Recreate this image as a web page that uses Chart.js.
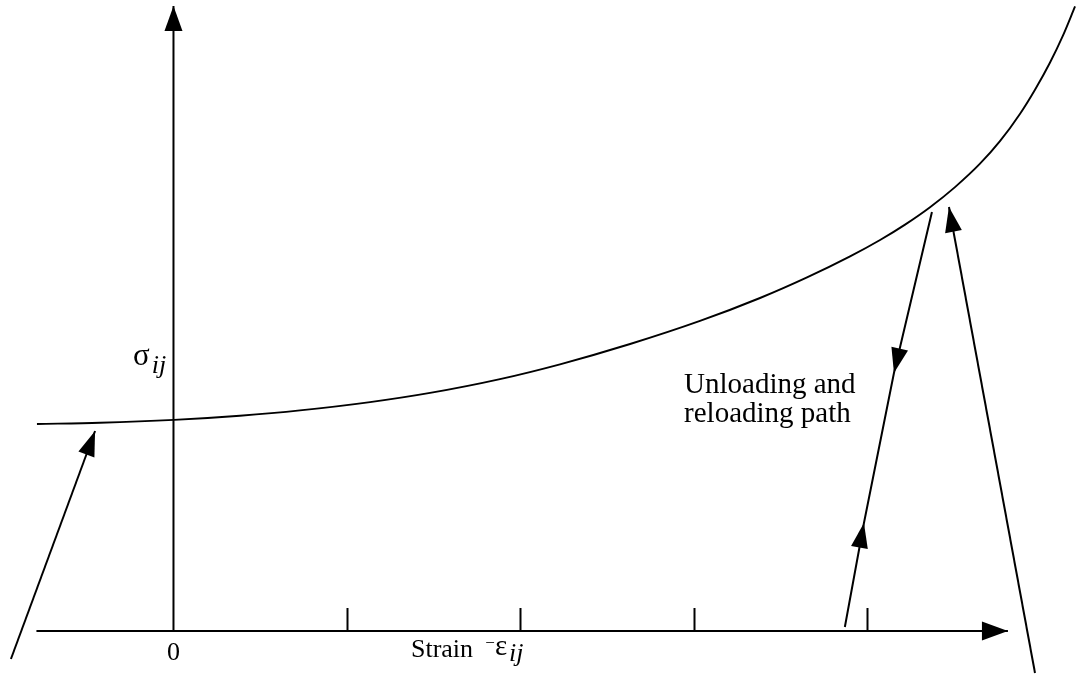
<!DOCTYPE html>
<html>
<head>
<meta charset="utf-8">
<script src="https://cdn.jsdelivr.net/npm/chart.js@4/dist/chart.umd.min.js"></script>
<style>
  html, body { margin: 0; padding: 0; background: #fff; overflow: hidden; }
  #wrap { width: 1086px; height: 676px; }
</style>
</head>
<body>
<div id="wrap"><canvas id="c" width="1086" height="676"></canvas></div>
<script>
// Stress–strain curve: strain in tick units, stress in arbitrary units
const curveStrain = [-0.787, -0.424, 0.003, 0.383, 0.729, 1.133, 1.479, 1.882, 2.228, 2.632, 3.035,
                     3.381, 3.652, 3.900, 4.073, 4.217, 4.361, 4.505, 4.649, 4.764, 4.880, 4.966,
                     5.052, 5.127, 5.197];
const curveStress = [2.070, 2.082, 2.111, 2.153, 2.206, 2.289, 2.381, 2.519, 2.667, 2.870, 3.101,
                     3.330, 3.536, 3.746, 3.910, 4.064, 4.238, 4.439, 4.673, 4.898, 5.173, 5.413,
                     5.683, 5.954, 6.246];

// Loading path coming up to the curve from the left
const approachStrain = [-0.937, -0.452];
const approachStress = [-0.28, 2.00];

// Unloading and reloading path (down from the curve, then back up)
const unloadStrain = [4.372, 4.153, 3.980, 3.870];
const unloadStress = [4.19, 2.58, 1.08, 0.04];

// Reloading path back to the curve
const reloadStrain = [4.966, 4.470];
const reloadStress = [-0.42, 4.24];

// Coordinate axes
const xAxisStrain = [-0.79, 4.81];
const yAxisStress = [0, 6.25];

// Tick marks on the strain axis and the one labelled tick
const tickStrain = [1, 2, 3, 4];
const tickLabelValues = [0];
const tickLabels = ['0'];

const pts = (xs, ys) => xs.map((x, i) => ({ x, y: ys[i] }));

const INK = '#000';
const SERIF = '"Liberation Serif", "DejaVu Serif", serif';

function line(data, extra) {
  return Object.assign({
    data, showLine: true, pointRadius: 0, borderColor: INK,
    borderWidth: 2, fill: false, tension: 0
  }, extra || {});
}

const datasets = [
  line(pts(curveStrain, curveStress), { cubicInterpolationMode: 'monotone', borderWidth: 1.9 }),
  line(pts(approachStrain, approachStress), { arrows: [[0, 1]] }),
  line(pts(unloadStrain, unloadStress), { arrows: [[0, 1], [3, 2]] }),
  line(pts(reloadStrain, reloadStress), { arrows: [[0, 1]] }),
  line(pts(xAxisStrain, [0, 0]), { arrows: [[0, 1]], arrowLen: 26, arrowHalf: 9.5 }),
  line(pts([0, 0], yAxisStress), { arrows: [[0, 1]], arrowLen: 25, arrowHalf: 9 })
];

// Arrowheads, tick marks and annotation text
const decorations = {
  id: 'decorations',
  afterDatasetsDraw(chart) {
    const ctx = chart.ctx;
    const xs = chart.scales.x, ys = chart.scales.y;
    const px = v => xs.getPixelForValue(v);
    const py = v => ys.getPixelForValue(v);

    ctx.save();
    ctx.fillStyle = INK;
    ctx.strokeStyle = INK;

    // arrowheads
    chart.data.datasets.forEach(ds => {
      if (!ds.arrows) return;
      const L = ds.arrowLen || 25, H = ds.arrowHalf || 8.5;
      ds.arrows.forEach(([a, b]) => {
        const x0 = px(ds.data[a].x), y0 = py(ds.data[a].y);
        const x1 = px(ds.data[b].x), y1 = py(ds.data[b].y);
        const d = Math.hypot(x1 - x0, y1 - y0);
        const ux = (x1 - x0) / d, uy = (y1 - y0) / d;
        const bx = x1 - ux * L, by = y1 - uy * L;
        ctx.beginPath();
        ctx.moveTo(x1, y1);
        ctx.lineTo(bx - uy * H, by + ux * H);
        ctx.lineTo(bx + uy * H, by - ux * H);
        ctx.closePath();
        ctx.fill();
      });
    });

    // tick marks pointing up from the strain axis
    ctx.lineWidth = 2;
    const y0 = py(0);
    tickStrain.forEach(t => {
      const x = Math.round(px(t)) + 0.5;
      ctx.beginPath();
      ctx.moveTo(x, y0);
      ctx.lineTo(x, y0 - 23);
      ctx.stroke();
    });

    // tick labels
    ctx.font = '26px ' + SERIF;
    ctx.textBaseline = 'alphabetic';
    ctx.textAlign = 'center';
    tickLabelValues.forEach((v, i) => ctx.fillText(tickLabels[i], px(v), y0 + 29));
    ctx.textAlign = 'left';

    // axis title: Strain −ε_ij
    ctx.font = '26px ' + SERIF;
    ctx.fillText('Strain', px(1.369), y0 + 26);
    ctx.font = '17px ' + SERIF;
    ctx.fillText('\u2212', px(1.797), y0 + 17);
    ctx.font = '29px ' + SERIF;
    const eX = px(1.853);
    ctx.fillText('\u03b5', eX, y0 + 24);
    const eW = ctx.measureText('\u03b5').width;
    ctx.font = 'italic 26px ' + SERIF;
    ctx.fillText('ij', eX + eW + 2, y0 + 30);

    // stress label σ_ij
    ctx.font = '31px ' + SERIF;
    const sX = px(-0.233), sY = py(2.66);
    ctx.fillText('\u03c3', sX, sY);
    const sW = ctx.measureText('\u03c3').width;
    ctx.font = 'italic 26px ' + SERIF;
    ctx.fillText('ij', sX + sW + 2, sY + 8);

    // path annotation
    ctx.font = '29px ' + SERIF;
    ctx.fillText('Unloading and', px(2.943), py(2.38));
    ctx.fillText('reloading path', px(2.943), py(2.09));

    ctx.restore();
  }
};

new Chart(document.getElementById('c'), {
  type: 'scatter',
  data: { datasets },
  options: {
    responsive: false,
    animation: false,
    devicePixelRatio: 1,
    events: [],
    layout: { padding: 0 },
    plugins: { legend: { display: false }, tooltip: { enabled: false } },
    scales: {
      x: { type: 'linear', display: false, min: -1, max: 5.26 },
      y: { type: 'linear', display: false, min: -0.45, max: 6.31 }
    }
  },
  plugins: [decorations]
});
</script>
</body>
</html>
